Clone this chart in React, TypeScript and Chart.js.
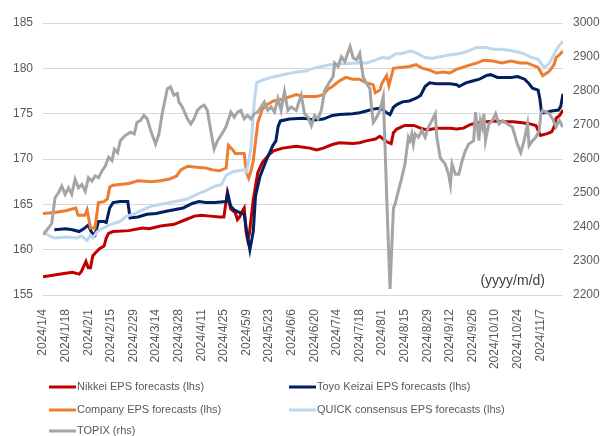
import React, { useEffect, useRef } from "react";
import { Chart, registerables } from "chart.js";
Chart.register(...registerables);

const xTickLabels = [
  "2024/1/4", "2024/1/18", "2024/2/1", "2024/2/15", "2024/2/29", "2024/3/14",
  "2024/3/28", "2024/4/11", "2024/4/25", "2024/5/9", "2024/5/23", "2024/6/6",
  "2024/6/20", "2024/7/4", "2024/7/18", "2024/8/1", "2024/8/15", "2024/8/29",
  "2024/9/12", "2024/9/26", "2024/10/10", "2024/10/24", "2024/11/7",
];

const seriesNames = [
  "Nikkei EPS forecasts (lhs)",
  "Toyo Keizai EPS forecasts (lhs)",
  "Company EPS forecasts (lhs)",
  "QUICK consensus EPS forecasts (lhs)",
  "TOPIX (rhs)",
];

// [business-day index, value]
const nikkei: [number, number][] = [
  [0,157.0],[5,157.2],[10,157.4],[13,157.5],[16,157.3],[17,157.6],[19,158.7],[20,158.0],[21,158.0],[22,159.3],[23,159.6],[25,160.1],[27,160.4],[28,161.3],[29,161.8],[31,162.0],[38,162.1],[44,162.4],[47,162.3],[52,162.6],[58,162.8],[63,163.3],[67,163.7],[70,163.8],[74,163.7],[78,163.6],[80,163.6],[81.5,166.2],[83,164.5],[85,164.1],[86,163.3],[87,163.6],[88,164.2],[89,164.6],[89.8,162.0],[90.5,161.1],[91.3,161.8],[93,165.5],[95,168.5],[97,169.6],[100,170.5],[102,170.9],[106,171.2],[112,171.4],[118,171.2],[121,171.0],[124,171.2],[128,171.6],[131,171.8],[137,171.7],[140,171.8],[143,172.0],[147,172.2],[149,172.5],[150.5,172.2],[152,171.9],[154,171.7],[155,172.9],[156.5,173.3],[160,173.7],[164,173.7],[167,173.4],[170,173.2],[174,173.4],[180,173.4],[183,173.3],[186,173.4],[189,173.8],[192,174.0],[196,174.1],[200,174.2],[204,174.1],[208,174.1],[212,174.0],[215,173.9],[218,173.7],[220,172.6],[223,172.8],[225,173.0],[226,173.5],[227,174.5],[228.5,174.8],[230,175.4],
];

const toyoKeizai: [number, number][] = [
  [5,162.2],[10,162.3],[13,162.2],[16,162.0],[18,162.3],[20,162.7],[21.5,161.9],[23,161.6],[24.5,163.1],[27,163.1],[28,163.0],[29.5,164.6],[31,165.2],[34,165.3],[37.5,165.3],[38.5,163.5],[42,163.6],[46,163.9],[50,164.0],[54,164.2],[58,164.4],[62,164.6],[66,165.1],[69,165.3],[72,165.2],[76,165.2],[81,165.3],[81.7,166.2],[83,164.8],[84.5,164.4],[86,164.2],[88,164.0],[89,163.9],[90,162.2],[91.5,160.0],[93,162.0],[94,165.9],[96,168.1],[99,170.0],[101.5,171.4],[103,172.0],[104,173.6],[105,174.2],[109,174.4],[115,174.5],[118,174.4],[120,174.3],[124,174.4],[128,174.8],[131,174.9],[137,175.0],[140,175.1],[143,175.3],[146,175.5],[149,175.6],[150.5,175.4],[152,175.1],[153.5,174.9],[155,175.7],[156.5,176.0],[159,176.3],[162,176.4],[165,176.7],[167,177.0],[168,177.5],[169,178.0],[171,178.4],[174,178.3],[180,178.3],[183,178.2],[184,178.0],[187,178.4],[190,178.6],[193,178.8],[196,179.2],[198,179.3],[201,179.0],[204,179.0],[207,179.0],[210,179.1],[213,178.8],[215,178.3],[216.5,177.8],[219,177.6],[219.8,176.6],[220.5,175.1],[222,175.1],[225,175.3],[228,175.4],[229,175.8],[230,177.2],
];

const company: [number, number][] = [
  [0,164.0],[5,164.1],[10,164.3],[14.5,164.6],[15.5,163.8],[18.5,163.8],[19.5,164.4],[21,162.4],[23,162.4],[24.5,165.2],[27,165.3],[28.5,165.6],[29.5,166.9],[31,167.1],[38,167.3],[42,167.6],[48,167.5],[52,167.6],[56,167.8],[59,168.1],[61,168.8],[64,169.2],[68,169.1],[72,169.0],[75,168.8],[78,168.7],[81,169.0],[82,171.5],[84,171.0],[85,170.6],[89,170.6],[90,168.5],[91,167.9],[92,168.7],[93,169.8],[95,174.0],[97,175.5],[99,176.0],[102,176.4],[106,176.6],[112,177.1],[115,176.9],[121,176.9],[124,177.1],[126,177.7],[128,178.0],[131,178.6],[134,179.0],[137,178.8],[140,178.8],[143,178.4],[146,178.2],[147,177.3],[149,177.6],[150,178.4],[152,179.2],[153,178.1],[155,180.0],[158,180.1],[162,180.2],[165,180.4],[168,180.0],[171,179.8],[174,179.5],[177,179.6],[180,179.5],[183,179.9],[188,180.3],[192,180.6],[195,180.9],[199,180.8],[203,180.6],[207,180.8],[211,180.6],[214,180.6],[219,180.1],[221,179.2],[223,179.5],[224,179.7],[226,180.4],[227,181.2],[228,181.4],[230,181.9],
];

const quick: [number, number][] = [
  [0,162.0],[3,161.5],[5,161.3],[10,161.4],[15,161.3],[17,161.5],[19.5,161.0],[21,161.6],[22,161.3],[24,162.0],[26,162.3],[30,162.8],[34,163.1],[37,163.7],[40,163.9],[44,164.4],[48,164.8],[54,165.1],[60,165.4],[64,165.6],[68,166.1],[72,166.5],[76,167.0],[79,167.2],[81,168.2],[84,168.6],[89,168.8],[90,168.6],[91,169.8],[92,171.3],[93.5,176.5],[94.5,178.4],[97,178.7],[101,179.0],[106,179.3],[110,179.5],[116,179.7],[121,180.1],[127,180.4],[133,180.5],[139,180.6],[143,180.6],[147,180.9],[150,181.2],[153,181.1],[156,181.6],[158,181.6],[161,181.8],[163,181.9],[166,181.6],[169,181.2],[172,181.1],[176,181.3],[180,181.5],[184,181.6],[188,181.9],[192,182.3],[196,182.3],[199,182.1],[202,182.1],[206,182.0],[210,181.8],[213,181.6],[216,181.2],[219,181.0],[221,180.3],[222,180.1],[224,180.6],[226,181.5],[227,182.0],[228,182.4],[230,183.0],
];

const topix: [number, number][] = [
  [0,2377],[2.4,2397],[3.9,2411],[5.3,2486],[6.8,2500],[8.3,2520],[9.8,2496],[11.3,2515],[12.7,2496],[14.2,2540],[15.7,2515],[17.2,2525],[18.7,2505],[20.1,2545],[21.6,2535],[23.1,2550],[24.6,2545],[26.1,2565],[27.6,2580],[29,2605],[30.5,2595],[31.6,2629],[33,2619],[34.2,2654],[36.4,2669],[38.7,2679],[40.4,2674],[41.6,2708],[43.1,2713],[44.6,2728],[46.1,2718],[47.6,2684],[49.8,2644],[51.3,2674],[52.7,2733],[55,2807],[56.4,2812],[57.9,2788],[59.4,2793],[60.1,2768],[61.6,2753],[63.9,2718],[65.4,2703],[66.8,2718],[68.3,2743],[69.8,2753],[71.3,2758],[72.7,2743],[74.2,2684],[75.7,2629],[77.2,2654],[78.7,2669],[80.9,2694],[83.1,2738],[84.6,2723],[86,2738],[87.5,2743],[89,2718],[90.5,2728],[92,2718],[93.5,2733],[95,2738],[96.4,2753],[97.9,2768],[99.4,2743],[100.9,2753],[102.4,2738],[103.9,2778],[105.3,2743],[106.8,2798],[108.3,2743],[109.8,2753],[112,2743],[114.2,2788],[115.7,2733],[117.2,2723],[118.7,2698],[120.1,2728],[121.6,2718],[123.1,2743],[124.6,2802],[126.8,2827],[128.3,2842],[129,2882],[130.5,2872],[132,2901],[133.5,2887],[135.8,2931],[137.2,2897],[138.7,2892],[140.1,2911],[141.6,2842],[143.1,2822],[144.6,2807],[145.3,2753],[146.1,2708],[147.6,2723],[149,2743],[150.5,2783],[151.3,2634],[152.3,2436],[153.5,2218],[155,2456],[155.7,2466],[156.4,2486],[158.7,2545],[160.1,2585],[161.6,2664],[162.3,2654],[163.1,2674],[163.8,2644],[164.6,2674],[166.1,2664],[167.6,2684],[169,2664],[170.5,2694],[172,2713],[173.5,2733],[174.2,2664],[175.7,2604],[177.9,2585],[179.4,2555],[180.2,2525],[180.9,2585],[182.4,2555],[183.9,2555],[185.4,2595],[186.8,2624],[188.3,2644],[190.5,2654],[191.3,2738],[192,2703],[192.8,2654],[193.5,2713],[194.3,2694],[195,2733],[195.7,2654],[197.2,2703],[198.7,2713],[200.2,2733],[201.7,2703],[203.2,2713],[205.4,2703],[207.6,2694],[209.8,2644],[211.3,2619],[212.8,2654],[214.3,2703],[215,2639],[216.5,2654],[218,2664],[219.5,2684],[220.2,2733],[221,2743],[222.4,2738],[223.9,2733],[225.4,2718],[226.9,2694],[228.4,2713],[229.9,2694],
];

const seriesData = [nikkei, toyoKeizai, company, quick, topix];
const seriesColors = ["#c00000", "#002060", "#ed7d31", "#bdd7ee", "#a5a5a5"];
const seriesAxes = ["y", "y", "y", "y", "y2"];

const FONT = "'Liberation Sans', Arial, sans-serif";
const TEXT_COLOR = "#595959";

export default function App() {
  const ref = useRef<HTMLCanvasElement>(null);

  useEffect(() => {
    if (!ref.current) return;

    const legendPlugin = {
      id: "customLegend",
      afterDraw(chart: any) {
        const ctx = chart.ctx;
        const pos = [[49, 387], [289, 387], [49, 410], [289, 410], [49, 431]];
        chart.data.datasets.forEach((ds: any, i: number) => {
          const [x, y] = pos[i];
          ctx.save();
          ctx.strokeStyle = ds.borderColor;
          ctx.lineWidth = 3;
          ctx.beginPath();
          ctx.moveTo(x, y);
          ctx.lineTo(x + 27, y);
          ctx.stroke();
          ctx.fillStyle = TEXT_COLOR;
          ctx.font = `11px ${FONT}`;
          ctx.textAlign = "left";
          ctx.textBaseline = "middle";
          ctx.fillText(ds.label, x + 28, y);
          ctx.restore();
        });
        ctx.save();
        ctx.fillStyle = "#404040";
        ctx.font = `14px ${FONT}`;
        ctx.textAlign = "right";
        ctx.textBaseline = "middle";
        ctx.fillText("(yyyy/m/d)", 545, 281);
        ctx.restore();
      },
    };

    const chart = new Chart(ref.current, {
      type: "line",
      data: {
        datasets: seriesData.map((s, i) => ({
          label: seriesNames[i],
          data: s.map(([x, y]) => ({ x, y })),
          borderColor: seriesColors[i],
          backgroundColor: seriesColors[i],
          borderWidth: 3,
          pointRadius: 0,
          tension: 0,
          fill: false,
          yAxisID: seriesAxes[i],
          order: 5 - i,
        })),
      },
      options: {
        responsive: false,
        animation: false,
        layout: { padding: { top: 23, left: 0, right: 0, bottom: 0 } },
        plugins: {
          legend: { display: false },
          tooltip: { enabled: false },
        },
        scales: {
          x: {
            type: "linear",
            position: "bottom",
            min: 0,
            max: 230,
            grid: { display: false },
            border: { display: false },
            ticks: {
              stepSize: 10,
              autoSkip: false,
              maxRotation: 90,
              minRotation: 90,
              padding: 6,
              color: TEXT_COLOR,
              font: { family: FONT, size: 12 },
              callback: (v: any) => {
                const i = Math.round(Number(v) / 10);
                return xTickLabels[i] ?? "";
              },
            },
            afterFit: (s: any) => {
              s.height = 141;
            },
          },
          y: {
            position: "left",
            min: 155,
            max: 185,
            ticks: {
              stepSize: 5,
              padding: 10,
              color: TEXT_COLOR,
              font: { family: FONT, size: 12 },
              callback: (v: any) => String(v),
            },
            grid: { color: "#d9d9d9", lineWidth: 1, drawTicks: false },
            border: { display: false },
            afterFit: (s: any) => {
              s.width = 43;
            },
          },
          y2: {
            position: "right",
            min: 2200,
            max: 3000,
            ticks: {
              stepSize: 100,
              padding: 10,
              color: TEXT_COLOR,
              font: { family: FONT, size: 12 },
              callback: (v: any) => String(v),
            },
            grid: { display: false, drawTicks: false },
            border: { display: false },
            afterFit: (s: any) => {
              s.width = 41;
            },
          },
        },
      } as any,
      plugins: [legendPlugin],
    });

    return () => chart.destroy();
  }, []);

  return (
    <div style={{ position: "fixed", left: 0, top: 0, width: 604, height: 436, background: "#fff" }}>
      <canvas ref={ref} width={604} height={436} style={{ display: "block" }} />
    </div>
  );
}
